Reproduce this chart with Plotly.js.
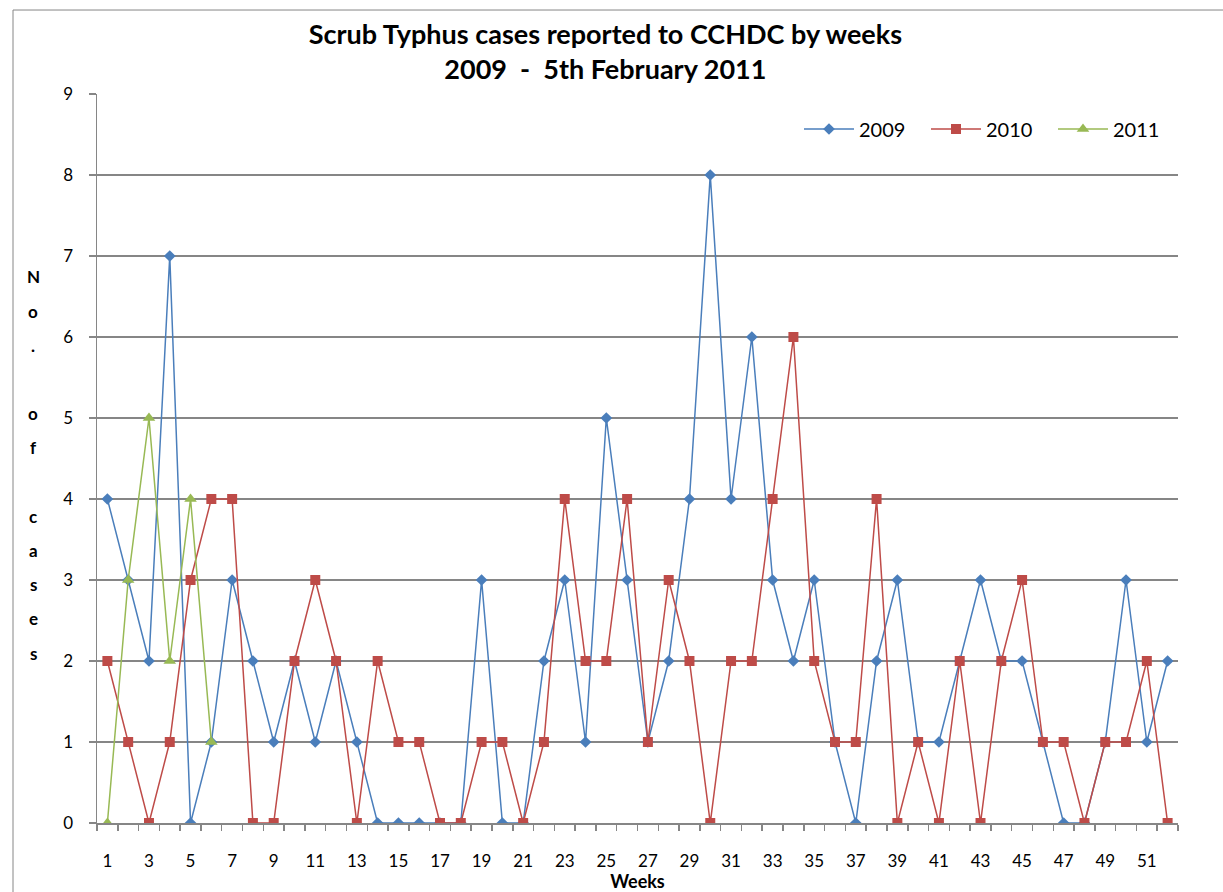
<!DOCTYPE html>
<html>
<head>
<meta charset="utf-8">
<script src="https://cdn.plot.ly/plotly-3.0.1.min.js"></script>
<style>html,body{margin:0;padding:0;background:#fff;}#chart{width:1223px;height:892px;}</style>
</head>
<body>
<div id="chart"></div>
<script>
const weeks = Array.from({length: 52}, (_, i) => i + 1);
const cases2009 = [4,3,2,7,0,1,3,2,1,2,1,2,1,0,0,0,0,0,3,0,0,2,3,1,5,3,1,2,4,8,4,6,3,2,3,1,0,2,3,1,1,2,3,2,2,1,0,0,1,3,1,2];
const cases2010 = [2,1,0,1,3,4,4,0,0,2,3,2,0,2,1,1,0,0,1,1,0,1,4,2,2,4,1,3,2,0,2,2,4,6,2,1,1,4,0,1,0,2,0,2,3,1,1,0,1,1,2,0];
const weeks2011 = [1,2,3,4,5,6];
const cases2011 = [0,3,5,2,4,1];
const xTickVals = [1,3,5,7,9,11,13,15,17,19,21,23,25,27,29,31,33,35,37,39,41,43,45,47,49,51];
const yTitle = "No. of cases";

const FONT = "Lato, 'Open Sans', 'Liberation Sans', sans-serif";

const traces = [
  {x: weeks, y: cases2009, name: '2009', type: 'scatter', mode: 'lines+markers',
   line: {color: '#4A7EBB', width: 1.5}, marker: {symbol: 'diamond', size: 9, color: '#4A7EBB'}},
  {x: weeks, y: cases2010, name: '2010', type: 'scatter', mode: 'lines+markers',
   line: {color: '#BE4B48', width: 1.5}, marker: {symbol: 'square', size: 10, color: '#BE4B48'}},
  {x: weeks2011, y: cases2011, name: '2011', type: 'scatter', mode: 'lines+markers',
   line: {color: '#98B954', width: 1.5}, marker: {symbol: 'triangle-up', size: 11, color: '#98B954'}}
];

// vertical stacked y-axis title letters
const annotations = [];
const chars = yTitle.split('');
const spacing = 34.2;
const mid = (chars.length - 1) / 2;
chars.forEach((c, i) => {
  if (c === ' ') return;
  annotations.push({
    text: c, xref: 'paper', yref: 'paper', x: -0.0592, y: 0.491,
    yshift: (mid - i) * spacing, showarrow: false,
    font: {family: FONT, size: 17, color: '#000', weight: 'bold'},
    xanchor: 'center', yanchor: 'middle'
  });
});

const layout = {
  width: 1223, height: 892,
  margin: {l: 97, r: 45, t: 94, b: 69},
  paper_bgcolor: '#fff', plot_bgcolor: '#fff',
  font: {family: FONT, color: '#000'},
  title: {
    text: '<b>Scrub Typhus cases reported to CCHDC by weeks</b><br><b>2009  -  5th February 2011</b>',
    xref: 'container', yref: 'container',
    x: 0.495, xanchor: 'center', y: 0.951, yanchor: 'middle',
    font: {family: FONT, size: 27, color: '#000'}
  },
  xaxis: {
    range: [0.5, 52.5], tickmode: 'array', tickvals: xTickVals,
    ticks: '', showgrid: false, zeroline: false,
    showline: true, linecolor: '#868686', linewidth: 1.5,
    tickfont: {family: FONT, size: 17, color: '#000'},
    ticklabelstandoff: 22,
    minor: {tickmode: 'linear', tick0: 0.5, dtick: 1, ticks: 'outside', ticklen: 6, tickcolor: '#868686', tickwidth: 1.5, showgrid: false},
    title: {text: '<b>Weeks</b>', font: {family: FONT, size: 18, color: '#000'}, standoff: 2},
    fixedrange: true
  },
  yaxis: {
    range: [0, 9], tickmode: 'linear', tick0: 0, dtick: 1,
    ticks: 'outside', ticklen: 7, tickcolor: '#868686', tickwidth: 1.5,
    showgrid: true, gridcolor: '#868686', gridwidth: 1.5,
    zeroline: false, showline: true, linecolor: '#868686', linewidth: 1.5,
    tickfont: {family: FONT, size: 17, color: '#000'},
    ticklabelstandoff: 12,
    fixedrange: true
  },
  legend: {
    orientation: 'h', x: 0.6494, xanchor: 'left', y: 0.952, yanchor: 'middle',
    font: {family: FONT, size: 20, color: '#000'}, bgcolor: 'rgba(0,0,0,0)',
    itemwidth: 50, entrywidth: 62, entrywidthmode: 'pixels'
  },
  showlegend: true,
  annotations: annotations,
  shapes: [
    {type: 'line', xref: 'paper', yref: 'paper', x0: -0.0777, x1: 1.06, y0: 1.1152, y1: 1.1152, line: {color: '#868686', width: 1}},
    {type: 'line', xref: 'paper', yref: 'paper', x0: -0.0777, x1: -0.0777, y0: 1.1152, y1: -0.12, line: {color: '#868686', width: 1}}
  ]
};

Plotly.newPlot('chart', traces, layout, {displayModeBar: false, staticPlot: true});
</script>
</body>
</html>
